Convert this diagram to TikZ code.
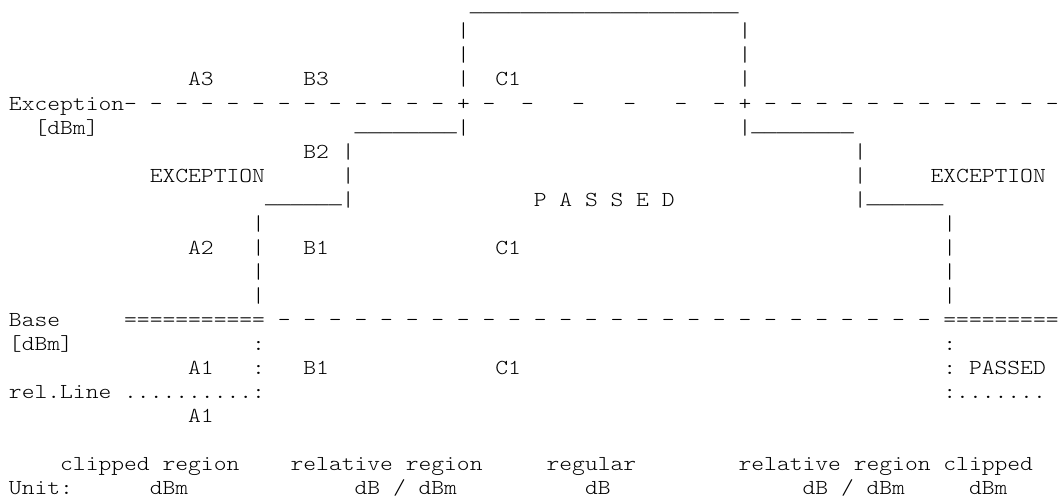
\documentclass[tikz,border=0pt]{standalone}
\usepackage{fontspec}
\usepackage{tikz}
\newfontfamily\asciifont[FakeStretch=1.142857]{lmmonolt10-regular.otf}
\newfontfamily\barfont{Liberation Mono}
\ExplSyntaxOn
\cs_new:Npn \reptext #1#2 { \prg_replicate:nn {#1} {#2} }
\ExplSyntaxOff
\newcommand{\ubar}[1]{{\barfont\reptext{#1}{\_}}}
\frenchspacing

\begin{document}
\begin{tikzpicture}[
    x=12.8bp, y=-24.05bp,
    font={\asciifont\fontsize{21.333bp}{24bp}\selectfont},
    txt/.style={inner sep=0pt, outer sep=0pt, anchor=base west, text=black}
]
\useasboundingbox (-0.703,-0.574) rectangle (82.266,20.050);

% Exception roof (C region)
\node[txt] (roof) at (36,-0.1) {\ubar{21}};
\foreach \r in {1,2,3,5}{
  \node[txt] (cwl\r) at (35,\r) {|};
  \node[txt] (cwr\r) at (57,\r) {|};
}

% Exception line
\node[txt] (excl) at (0,4) {Exception-\reptext{12}{\ -}};
\node[txt] (plusl) at (35,4) {+};
\node[txt] (excm) at (37,4) {-\ \ -\ \ \ -\ \ \ -\ \ \ -\ \ -};
\node[txt] (plusr) at (57,4) {+};
\node[txt] (excr) at (58,4) {\reptext{12}{\ -}};
\node[txt] (excunit) at (2,5) {[dBm]};

% B steps
\node[txt] (stepbl) at (27,4.9) {\ubar{8}};
\node[txt] (stepbr) at (58,4.9) {\ubar{8}};
\foreach \r in {6,7,8}{
  \node[txt] (bwl\r) at (26,\r) {|};
  \node[txt] (bwr\r) at (66,\r) {|};
}
\node[txt] (stepal) at (20,7.9) {\ubar{6}};
\node[txt] (stepar) at (67,7.9) {\ubar{6}};

% A steps
\foreach \r in {9,10,11,12}{
  \node[txt] (awl\r) at (19,\r) {|};
  \node[txt] (awr\r) at (73,\r) {|};
}

% region labels
\node[txt] (a3) at (14,3) {A3};
\node[txt] (b3) at (23,3) {B3};
\node[txt] (c1top) at (38,3) {C1};
\node[txt] (b2) at (23,6) {B2};
\node[txt] (exclbl) at (11,7) {EXCEPTION};
\node[txt] (excrbl) at (72,7) {EXCEPTION};
\node[txt] (passed) at (41,8) {P A S S E D};
\node[txt] (a2) at (14,10) {A2};
\node[txt] (b1mid) at (23,10) {B1};
\node[txt] (c1mid) at (38,10) {C1};

% Base line
\node[txt] (base) at (0,13) {Base};
\node[txt] (basel) at (9,13) {\reptext{11}{=}};
\node[txt] (basem) at (20,13) {\reptext{26}{\ -}};
\node[txt] (baser) at (73,13) {\reptext{9}{=}};
\node[txt] (baseunit) at (0,14) {[dBm]};
\foreach \r in {14,15}{
  \node[txt] (dl\r) at (19,\r) {:};
  \node[txt] (dr\r) at (73,\r) {:};
}
\node[txt] (a1) at (14,15) {A1};
\node[txt] (b1low) at (23,15) {B1};
\node[txt] (c1low) at (38,15) {C1};
\node[txt] (passedr) at (75,15) {PASSED};

% relative line
\node[txt] (rel) at (0,16) {rel.Line};
\node[txt] (rell) at (9,16) {\reptext{10}{.}:};
\node[txt] (relr) at (73,16) {:\reptext{7}{.}};
\node[txt] (a1low) at (14,17) {A1};

% regions and units
\node[txt] (clipl) at (4,19) {clipped region};
\node[txt] (rell2) at (22,19) {relative region};
\node[txt] (regular) at (42,19) {regular};
\node[txt] (relr2) at (57,19) {relative region};
\node[txt] (clipr) at (73,19) {clipped};
\node[txt] (unit) at (0,20) {Unit:};
\node[txt] (unitcl) at (11,20) {dBm};
\node[txt] (unitrl) at (27,20) {dB / dBm};
\node[txt] (unitreg) at (45,20) {dB};
\node[txt] (unitrr) at (62,20) {dB / dBm};
\node[txt] (unitcr) at (75,20) {dBm};

\end{tikzpicture}
\end{document}
